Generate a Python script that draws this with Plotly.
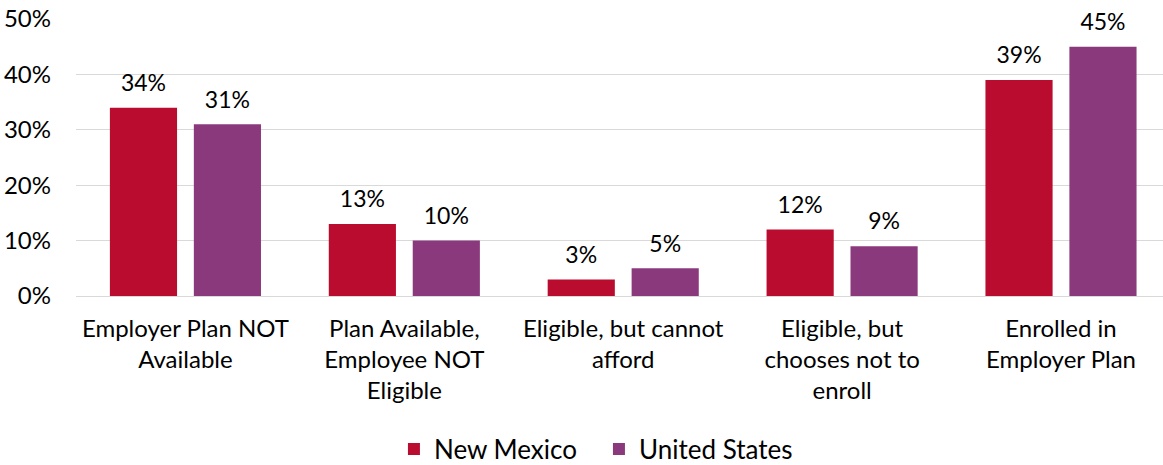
import plotly.graph_objects as go

categories = [
    "Employer Plan NOT<br>Available",
    "Plan Available,<br>Employee NOT<br>Eligible",
    "Eligible, but cannot<br>afford",
    "Eligible, but<br>chooses not to<br>enroll",
    "Enrolled in<br>Employer Plan",
]
new_mexico = [0.34, 0.13, 0.03, 0.12, 0.39]
united_states = [0.31, 0.10, 0.05, 0.09, 0.45]
y_ticks = [0, 0.1, 0.2, 0.3, 0.4, 0.5]

FONT = "Lato"
# value label on its own line, followed by a short spacer line that lifts it off the bar
label_tmpl = "<span style='font-size:23px'>%{y:.0%}</span><br> "

fig = go.Figure()
for name, values, color in [
    ("New Mexico", new_mexico, "#BA0C2F"),
    ("United States", united_states, "#8A3A7C"),
]:
    fig.add_trace(go.Bar(
        name=name, x=categories, y=values,
        marker=dict(color=color, line=dict(width=0)),
        texttemplate=label_tmpl, textposition="outside",
        textfont=dict(family=FONT, size=9, color="#000000"),
        constraintext="none", cliponaxis=False,
    ))

fig.update_layout(
    width=1163, height=465,
    margin=dict(l=76, r=0, t=19, b=169),
    paper_bgcolor="white", plot_bgcolor="white",
    font=dict(family=FONT, size=24, color="#000000"),
    barmode="group", bargap=0.233, bargroupgap=0.2,
    showlegend=True,
    legend=dict(
        orientation="h", xref="container", yref="container",
        x=0.515, xanchor="center", y=0.034, yanchor="middle",
        font=dict(family=FONT, size=26, color="#000000"),
        traceorder="normal", entrywidth=160,
    ),
)
fig.update_xaxes(
    range=[-0.5, 4.466], showgrid=False, showline=False, ticks="",
    tickfont=dict(family=FONT, size=24, color="#000000"),
    ticklabelstandoff=16,
)
fig.update_yaxes(
    range=[0, 0.5], tickvals=y_ticks, tickformat=".0%",
    showgrid=True, gridcolor="#D9D9D9", gridwidth=1.3,
    zeroline=True, zerolinecolor="#D9D9D9", zerolinewidth=1.3,
    showline=False, ticks="",
    tickfont=dict(family=FONT, size=24, color="#000000"),
    ticklabelstandoff=24,
)

fig.write_html("out.html")
